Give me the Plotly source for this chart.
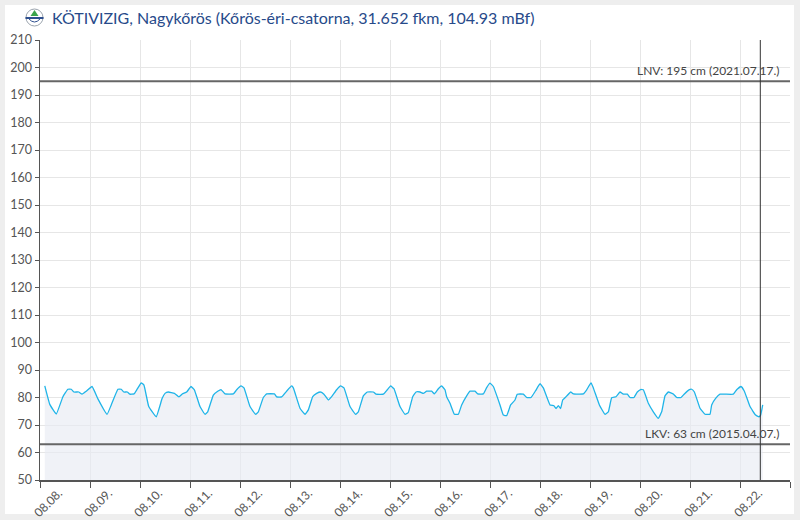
import plotly.graph_objects as go
import pandas as pd

# ---- data ----
start_date = "2023-08-08 00:00"
hours = [2.3, 4.7, 7.8, 11.0, 13.4, 15.0, 16.3, 18.6, 20.2, 22.2,
         25.0, 27.8, 32.2, 34.2, 37.4, 39.0, 40.2, 41.9, 43.1, 45.1, 46.7,
         48.6, 49.9, 52.2, 55.8, 58.6, 60.0, 61.6, 64.5, 66.7, 68.3, 70.4,
         72.5, 74.1, 76.8, 79.2, 80.5, 83.2, 85.3, 86.9, 88.8, 92.8, 94.4,
         96.5, 97.9, 100.8, 103.5, 104.8, 107.2, 108.8, 112.5, 113.6, 116.0, 118.4,
         120.8, 121.6, 124.8, 127.2, 128.8, 130.9, 132.8, 134.7, 136.3, 138.4, 140.0, 142.4,
         144.3, 145.9, 148.8, 151.5, 152.8, 155.2, 157.1, 160.0, 161.3, 164.8, 166.7,
         168.3, 169.9, 172.8, 175.2, 176.8, 178.9, 180.5, 182.4, 184.0, 185.6, 188.0, 189.3, 191.2,
         192.8, 194.4, 195.2, 196.8, 198.9, 200.8, 202.4, 204.8, 206.4, 208.8, 210.1, 212.8, 214.4,
         216.0, 217.6, 220.8, 222.4, 224.0, 225.9, 228.0, 229.1, 232.0, 233.6, 235.7, 237.9,
         240.0, 241.6, 244.8, 246.7, 247.7, 248.8, 249.9, 250.9, 252.8, 254.7, 256.0, 260.8, 262.4,
         264.5, 265.6, 268.5, 271.2, 272.8, 274.4, 276.5, 278.4, 280.0, 281.9, 283.2, 285.1, 286.7,
         288.3, 289.6, 292.0, 294.4, 296.8, 298.4, 300.0, 301.6, 304.0, 305.6, 307.7, 309.3, 311.5,
         312.8, 314.1, 316.8, 319.2, 321.6, 322.4, 324.3, 326.4, 332.8, 334.4,
         336.5, 338.1, 340.8, 343.5, 345.1, 345.9, 346.9]
levels = [84.2, 77.5, 74.0, 80.3, 83.0, 83.0, 82.0, 82.0, 81.2, 82.3,
          84.0, 79.5, 73.9, 77.3, 83.0, 83.0, 82.0, 82.0, 81.2, 81.3, 83.1,
          85.3, 84.5, 76.7, 73.0, 79.6, 81.5, 82.0, 81.5, 80.2, 81.3, 82.0,
          84.0, 82.8, 76.7, 73.9, 74.8, 80.9, 82.3, 82.9, 81.3, 81.3, 82.8,
          84.2, 83.5, 76.7, 73.9, 74.8, 80.0, 81.3, 81.3, 80.2, 80.2, 82.3,
          84.2, 83.5, 76.1, 73.9, 75.5, 80.3, 81.5, 82.0, 81.2, 79.1, 80.3, 82.8,
          84.2, 83.5, 76.7, 73.9, 74.8, 80.6, 82.0, 82.0, 81.2, 81.2, 82.8,
          84.2, 83.2, 76.7, 73.9, 74.5, 80.3, 82.0, 82.0, 81.5, 82.3, 82.3, 81.3, 83.2,
          84.2, 82.8, 80.3, 77.9, 73.9, 73.9, 77.3, 80.6, 82.3, 82.3, 81.3, 81.3, 83.6,
          85.2, 84.0, 77.3, 73.6, 73.4, 77.3, 79.1, 81.2, 81.2, 80.0, 80.0, 82.5,
          85.0, 83.5, 77.3, 77.0, 76.0, 77.0, 76.0, 79.1, 80.5, 82.0, 81.3, 81.3, 82.8,
          85.3, 83.5, 77.3, 73.9, 74.8, 79.9, 80.3, 82.0, 81.2, 81.2, 80.0, 80.0, 82.0,
          82.9, 82.8, 77.9, 74.8, 72.4, 74.8, 80.6, 82.0, 81.3, 80.0, 80.0, 81.3, 82.8,
          83.0, 82.0, 76.1, 73.9, 73.9, 77.3, 79.7, 81.2, 81.2, 82.8,
          84.0, 82.3, 76.7, 73.6, 73.0, 73.6, 77.3]

title_text = "KÖTIVIZIG, Nagykőrös (Kőrös-éri-csatorna, 31.652 fkm, 104.93 mBf)"
lnv_value = 195
lnv_label = "LNV: 195 cm (2021.07.17.)"
lkv_value = 63
lkv_label = "LKV: 63 cm (2015.04.07.)"
now_time = "2023-08-22 09:45"
x_start = "2023-08-08 00:00"
x_end = "2023-08-23 00:00"
day_labels = ["08.08.", "08.09.", "08.10.", "08.11.", "08.12.", "08.13.", "08.14.",
              "08.15.", "08.16.", "08.17.", "08.18.", "08.19.", "08.20.", "08.21.", "08.22."]
y_range = [50, 210]

# ---- figure ----
t0 = pd.Timestamp(start_date)
times = [t0 + pd.Timedelta(hours=h) for h in hours]
label_pos = [t0 + pd.Timedelta(days=i, hours=9) for i in range(len(day_labels))]

FONT = "Lato"
fig = go.Figure()
fig.add_trace(go.Scatter(
    x=times, y=levels, mode="lines",
    line=dict(color="#1fb4e8", width=1.3, shape="spline", smoothing=0.3),
    fill="tozeroy", fillcolor="rgba(232,235,243,0.65)",
    hoverinfo="skip", showlegend=False))

def px2x(px):
    return (px - 40) / 750.0

def py2y(py):
    return (480 - py) / 440.0

shapes = [
    # white card
    dict(type="rect", xref="paper", yref="paper", layer="below",
         x0=px2x(5), x1=px2x(794), y0=py2y(514), y1=py2y(5),
         fillcolor="white", line=dict(width=0)),
    # limit lines
    dict(type="line", xref="paper", yref="y", x0=0, x1=1, y0=lnv_value, y1=lnv_value,
         line=dict(color="#666666", width=2)),
    dict(type="line", xref="paper", yref="y", x0=0, x1=1, y0=lkv_value, y1=lkv_value,
         line=dict(color="#666666", width=2)),
    # current time line
    dict(type="line", xref="x", yref="paper", x0=now_time, x1=now_time, y0=0, y1=1,
         line=dict(color="#333333", width=1)),
    # logo
    dict(type="circle", xref="paper", yref="paper",
         x0=px2x(26), x1=px2x(43), y0=py2y(26), y1=py2y(9),
         fillcolor="white", line=dict(color="#9aa3ad", width=1)),
    dict(type="path", xref="paper", yref="paper",
         path=f"M {px2x(34.5)} {py2y(10)} L {px2x(30.5)} {py2y(16)} L {px2x(38.5)} {py2y(16)} Z",
         fillcolor="#3aa34a", line=dict(width=0)),
    dict(type="rect", xref="paper", yref="paper",
         x0=px2x(25.5), x1=px2x(43.5), y0=py2y(19), y1=py2y(17),
         fillcolor="#2e4f8f", line=dict(width=0)),
    dict(type="path", xref="paper", yref="paper",
         path=f"M {px2x(29)} {py2y(19)} Q {px2x(34.5)} {py2y(25)} {px2x(40)} {py2y(19)}",
         line=dict(color="#2e4f8f", width=1)),
]

annotations = [
    dict(xref="paper", yref="paper", x=px2x(50), y=py2y(17.5), xanchor="left", yanchor="middle",
         text=title_text, showarrow=False, font=dict(family=FONT, size=16, color="#274a8a")),
    dict(xref="paper", yref="y", x=px2x(782), y=lnv_value, xanchor="right", yanchor="bottom",
         yshift=1, text=lnv_label, showarrow=False, font=dict(family=FONT, size=12, color="#444444")),
    dict(xref="paper", yref="y", x=px2x(781), y=lkv_value, xanchor="right", yanchor="bottom",
         yshift=1, text=lkv_label, showarrow=False, font=dict(family=FONT, size=12, color="#444444")),
]

fig.update_layout(
    width=800, height=520,
    margin=dict(l=40, r=10, t=40, b=40, autoexpand=False),
    paper_bgcolor="#eeeeee", plot_bgcolor="rgba(0,0,0,0)",
    font=dict(family=FONT, size=12, color="#555555"),
    shapes=shapes, annotations=annotations, showlegend=False,
)
fig.update_xaxes(
    range=[x_start, x_end], type="date", automargin=False,
    tickmode="array", tickvals=label_pos, ticktext=day_labels, tickangle=-45,
    ticks="", showgrid=False,
    minor=dict(dtick=86400000, tick0=x_start, ticks="outside", ticklen=6,
               tickcolor="#555555", showgrid=True, gridcolor="#e6e6e6", gridwidth=1),
    showline=True, linecolor="#555555", linewidth=1.5,
    tickfont=dict(family=FONT, size=12, color="#555555"),
    zeroline=False, fixedrange=True,
)
fig.update_yaxes(
    range=y_range, dtick=10, tick0=50, automargin=False,
    showgrid=True, gridcolor="#e6e6e6", gridwidth=1,
    ticks="outside", ticklen=4, tickcolor="#555555",
    showline=True, linecolor="#555555", linewidth=1.5,
    tickfont=dict(family=FONT, size=12.5, color="#555555"),
    zeroline=False, fixedrange=True,
)

fig.write_html(
    "out.html",
    config={"displayModeBar": False, "staticPlot": True},
    post_script="document.body.style.margin='0px';document.body.style.padding='0px';"
                "document.body.style.background='#eeeeee';",
)
